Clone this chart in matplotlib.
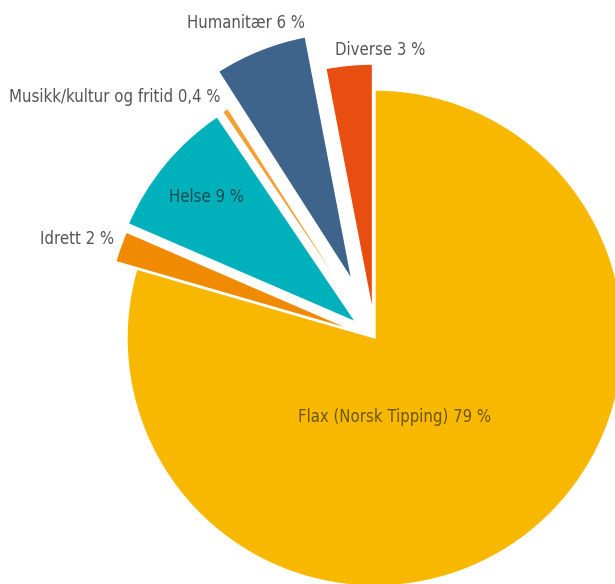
import matplotlib.pyplot as plt

# Data
categories = ['Flax (Norsk Tipping)', 'Idrett', 'Helse', 'Musikk/kultur og fritid',
              'Humanitær', 'Diverse']
shares = [79, 2, 9, 0.4, 6, 3]
share_text = ['79', '2', '9', '0,4', '6', '3']
colors = ['#F9B800', '#F08A00', '#00B0BA', '#F4A033', '#3F648C', '#E84E10']
explode = [0, 0.09, 0.1, 0.1, 0.25, 0.105]

# label placement in data units (pie radius = 1), and text colours
label_pos = [(0.08, -0.32), (-1.20, 0.40), (-0.68, 0.57), (-1.05, 0.97),
             (-0.52, 1.27), (0.02, 1.16)]
label_col = ['#6b5800', '#555555', '#1a4c54', '#555555', '#555555', '#555555']

plt.rcParams['font.family'] = ['DejaVu Sans']

fig = plt.figure(figsize=(6.15, 5.84), dpi=100)
ax = fig.add_axes([0, 0, 1, 1])

ax.pie(shares, colors=colors, explode=explode, startangle=90, counterclock=False,
       radius=1, wedgeprops=dict(edgecolor='white', linewidth=1))

for cat, txt, (x, y), c in zip(categories, share_text, label_pos, label_col):
    ax.text(x, y, f'{cat} {txt} %', ha='center', va='center', fontsize=12,
            fontstretch='condensed', fontweight='light', color=c)

# pixel scale: centre of pie at (375, 338), radius 248 px
ax.set_xlim(-375 / 248, (615 - 375) / 248)
ax.set_ylim(-(584 - 338) / 248, 338 / 248)
ax.set_aspect('auto')
ax.axis('off')

fig.savefig('out.png', dpi=100)
